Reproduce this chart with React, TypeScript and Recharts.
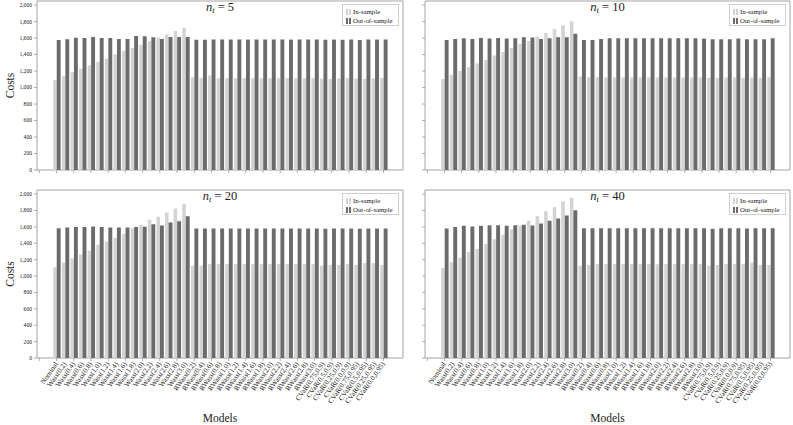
import React from 'react';
import { BarChart, Bar, XAxis, YAxis, ReferenceArea, Legend } from 'recharts';

const models = [
  'Nominal',
  'Wass(0.2)', 'Wass(0.4)', 'Wass(0.6)', 'Wass(0.8)', 'Wass(1.0)', 'Wass(1.2)', 'Wass(1.4)', 'Wass(1.6)',
  'Wass(1.8)', 'Wass(2.0)', 'Wass(2.2)', 'Wass(2.4)', 'Wass(2.6)', 'Wass(2.8)', 'Wass(3.0)',
  'RWass(0.2)', 'RWass(0.4)', 'RWass(0.6)', 'RWass(0.8)', 'RWass(1.0)', 'RWass(1.2)', 'RWass(1.4)', 'RWass(1.6)',
  'RWass(1.8)', 'RWass(2.0)', 'RWass(2.2)', 'RWass(2.4)', 'RWass(2.6)', 'RWass(2.8)', 'RWass(3.0)',
  'CVaR(0.75,0.9)', 'CVaR(0.5,0.9)', 'CVaR(0.25,0.9)', 'CVaR(0.0,0.9)',
  'CVaR(0.75,0.95)', 'CVaR(0.5,0.95)', 'CVaR(0.25,0.95)', 'CVaR(0.0,0.95)',
];

const yTicks = [0, 200, 400, 600, 800, 1000, 1200, 1400, 1600, 1800, 2000];

// n_t = 5
const inSample5 = [
  1090, 1138, 1187, 1228, 1268, 1313, 1350, 1402, 1447, 1480, 1520, 1561, 1606, 1646, 1687, 1724,
  1126, 1118, 1146, 1114, 1114, 1114, 1114, 1114, 1114, 1114, 1114, 1114, 1114, 1114, 1114,
  1108, 1106, 1110, 1118, 1110, 1106, 1110, 1118,
];
const outSample5 = [
  1577, 1585, 1605, 1602, 1614, 1602, 1602, 1590, 1590, 1626, 1622, 1610, 1590, 1614, 1614, 1614,
  1580, 1580, 1582, 1582, 1582, 1582, 1582, 1582, 1582, 1582, 1582, 1582, 1582, 1582, 1582,
  1580, 1582, 1580, 1582, 1578, 1582, 1582, 1582,
];

// n_t = 10
const inSample10 = [
  1102, 1155, 1203, 1248, 1293, 1333, 1390, 1431, 1480, 1528, 1565, 1618, 1663, 1711, 1756, 1805,
  1134, 1126, 1126, 1122, 1122, 1122, 1122, 1122, 1122, 1122, 1122, 1122, 1122, 1122, 1122,
  1118, 1118, 1122, 1122, 1118, 1122, 1118, 1126,
];
const outSample10 = [
  1577, 1590, 1598, 1590, 1602, 1594, 1602, 1594, 1598, 1610, 1606, 1590, 1598, 1610, 1610, 1654,
  1577, 1577, 1590, 1598, 1598, 1598, 1598, 1598, 1598, 1598, 1598, 1598, 1598, 1598, 1594,
  1585, 1585, 1585, 1594, 1585, 1585, 1585, 1598,
];

// n_t = 20
const inSample20 = [
  1108, 1165, 1214, 1263, 1311, 1381, 1421, 1466, 1515, 1584, 1625, 1686, 1723, 1776, 1825, 1882,
  1124, 1128, 1149, 1145, 1145, 1145, 1145, 1145, 1145, 1145, 1145, 1145, 1145, 1145, 1145,
  1128, 1136, 1136, 1145, 1136, 1157, 1157, 1136,
];
const outSample20 = [
  1584, 1592, 1597, 1597, 1605, 1597, 1592, 1592, 1592, 1597, 1601, 1633, 1617, 1654, 1670, 1731,
  1580, 1580, 1580, 1580, 1580, 1580, 1580, 1580, 1580, 1580, 1580, 1580, 1580, 1580, 1580,
  1576, 1580, 1580, 1580, 1576, 1580, 1580, 1580,
];

// n_t = 40
const inSample40 = [
  1096, 1169, 1222, 1291, 1332, 1393, 1450, 1503, 1572, 1617, 1674, 1731, 1792, 1841, 1910, 1955,
  1124, 1136, 1145, 1145, 1145, 1145, 1145, 1145, 1145, 1145, 1145, 1145, 1145, 1145, 1145,
  1124, 1136, 1149, 1149, 1149, 1165, 1136, 1136,
];
const outSample40 = [
  1580, 1597, 1613, 1605, 1613, 1621, 1621, 1613, 1621, 1625, 1617, 1641, 1674, 1703, 1739, 1804,
  1584, 1584, 1584, 1584, 1584, 1584, 1584, 1584, 1584, 1584, 1584, 1584, 1584, 1584, 1584,
  1576, 1584, 1584, 1584, 1580, 1584, 1584, 1584,
];

const LIGHT = '#d3d3d3';
const DARK = '#6b6b6b';
const AXIS = '#9a9a9a';
const TEXT = '#222';
const FONT = "'Liberation Serif', 'DejaVu Serif', serif";
const X_DOMAIN: [number, number] = [-2.27, 40.27];
const Y_MAX = 2050;
const xTicks = [-2, ...models.map((_, i) => i)];

const fmt = (v: number) => v.toLocaleString('en-US');

const makeXTick = (showLabels: boolean) => (props: any) => {
  const { x, y, payload } = props;
  const idx = Math.round(payload.value);
  const ax = x + 1.8;
  const ay = y + 6;
  return (
    <g>
      {idx % 2 === 0 && <line x1={x} x2={x} y1={y} y2={y + 3} stroke={AXIS} strokeWidth={0.8} />}
      {showLabels && idx >= 0 && (
        <text
          x={ax}
          y={ay}
          transform={`rotate(-55, ${ax}, ${ay})`}
          textAnchor="end"
          fontSize={7.2}
          fontFamily={FONT}
          fill={TEXT}
        >
          {models[idx]}
        </text>
      )}
    </g>
  );
};

const makeYTick = (showLabels: boolean) => (props: any) => {
  const { x, y, payload } = props;
  if (!showLabels) return <g />;
  return (
    <text x={x} y={y} dy={1.9} textAnchor="end" fontSize={5.6} fontFamily={FONT} fill={TEXT}>
      {fmt(payload.value)}
    </text>
  );
};

const makeTitle = (val: string) => (props: any) => {
  const vb = props.viewBox;
  const cx = vb.x + vb.width / 2;
  return (
    <text x={cx} y={vb.y + 10} textAnchor="middle" fontFamily={FONT} fontSize={12.5} fill={TEXT}>
      <tspan fontStyle="italic">n</tspan>
      <tspan fontStyle="italic" fontSize={8.5} dy={2}>t</tspan>
      <tspan dy={-2}>{` = ${val}`}</tspan>
    </text>
  );
};

const Swatch = ({ color }: { color: string }) => (
  <span style={{ display: 'inline-flex', gap: 1, marginRight: 2 }}>
    <span style={{ display: 'inline-block', width: 2, height: 6, background: color }} />
    <span style={{ display: 'inline-block', width: 2, height: 6, background: color }} />
  </span>
);

const LegendBox = () => (
  <div
    style={{
      border: '1px solid #cfcfcf',
      background: '#fff',
      padding: '2px 3px',
      fontFamily: FONT,
      fontSize: 6.8,
      lineHeight: '9px',
      color: TEXT,
      boxSizing: 'border-box',
      width: 57,
      height: 22,
    }}
  >
    <div style={{ display: 'flex', alignItems: 'center' }}>
      <Swatch color={LIGHT} />
      In-sample
    </div>
    <div style={{ display: 'flex', alignItems: 'center' }}>
      <Swatch color={DARK} />
      Out-of-sample
    </div>
  </div>
);

type PanelProps = {
  title: string;
  inS: number[];
  outS: number[];
  left: number;
  top: number;
  width: number;
  height: number;
  plotLeft: number;
  plotRight: number;
  plotTop: number;
  plotBottom: number;
  showYLabels: boolean;
  showXLabels: boolean;
};

const Panel = (p: PanelProps) => {
  const data = models.map((m, i) => ({ idx: i, model: m, inSample: p.inS[i], outSample: p.outS[i] }));
  return (
    <div style={{ position: 'absolute', left: p.left, top: p.top, width: p.width, height: p.height }}>
      <BarChart
        width={p.width}
        height={p.height}
        data={data}
        margin={{ top: p.plotTop, right: p.width - p.plotRight, left: 0, bottom: 0 }}
        barGap={0}
      >
        <XAxis
          dataKey="idx"
          type="number"
          domain={X_DOMAIN}
          ticks={xTicks}
          interval={0}
          allowDataOverflow
          tickSize={0}
          tickMargin={0}
          tickLine={false}
          axisLine={false}
          height={p.height - p.plotBottom}
          tick={makeXTick(p.showXLabels)}
          label={
            p.showXLabels
              ? {
                  content: (lp: any) => {
                    const vb = lp.viewBox;
                    return (
                      <text
                        x={vb.x + vb.width / 2}
                        y={p.height - 3}
                        textAnchor="middle"
                        fontFamily={FONT}
                        fontSize={11.5}
                        fill={TEXT}
                      >
                        Models
                      </text>
                    );
                  },
                }
              : undefined
          }
        />
        <YAxis
          type="number"
          domain={[0, Y_MAX]}
          ticks={yTicks}
          interval={0}
          allowDataOverflow
          width={p.plotLeft}
          tickSize={3}
          tickMargin={2}
          tickLine={{ stroke: AXIS, strokeWidth: 0.8 }}
          axisLine={false}
          tick={makeYTick(p.showYLabels)}
          label={
            p.showYLabels
              ? {
                  content: (lp: any) => {
                    const vb = lp.viewBox;
                    const cy = vb.y + vb.height / 2;
                    return (
                      <text
                        x={10}
                        y={cy}
                        transform={`rotate(-90, 10, ${cy})`}
                        dy={4}
                        textAnchor="middle"
                        fontFamily={FONT}
                        fontSize={11.5}
                        fill={TEXT}
                      >
                        Costs
                      </text>
                    );
                  },
                }
              : undefined
          }
        />
        <Bar dataKey="inSample" name="In-sample" fill={LIGHT} barSize={3.5} isAnimationActive={false} />
        <Bar dataKey="outSample" name="Out-of-sample" fill={DARK} barSize={3.9} isAnimationActive={false} />
        <ReferenceArea
          x1={X_DOMAIN[0]}
          x2={X_DOMAIN[1]}
          y1={0}
          y2={Y_MAX}
          fill="none"
          fillOpacity={0}
          stroke={AXIS}
          strokeWidth={0.9}
          ifOverflow="visible"
          label={{ content: makeTitle(p.title) }}
        />
        <Legend
          layout="vertical"
          align="center"
          verticalAlign="middle"
          content={() => <LegendBox />}
          wrapperStyle={{ left: p.plotRight - 61, top: p.plotTop + 3, width: 57, height: 22 }}
        />
      </BarChart>
    </div>
  );
};

export default function App() {
  return (
    <div
      style={{
        position: 'absolute',
        left: 0,
        top: 0,
        width: 793,
        height: 425,
        background: '#fff',
        overflow: 'hidden',
      }}
    >
      <Panel title="5" inS={inSample5} outS={outSample5} left={0} top={0} width={410} height={182}
        plotLeft={37} plotRight={403} plotTop={1} plotBottom={170} showYLabels showXLabels={false} />
      <Panel title="10" inS={inSample10} outS={outSample10} left={400} top={0} width={393} height={182}
        plotLeft={25} plotRight={390} plotTop={1} plotBottom={170} showYLabels={false} showXLabels={false} />
      <Panel title="20" inS={inSample20} outS={outSample20} left={0} top={185} width={410} height={240}
        plotLeft={37} plotRight={403} plotTop={5} plotBottom={173} showYLabels showXLabels />
      <Panel title="40" inS={inSample40} outS={outSample40} left={400} top={185} width={393} height={240}
        plotLeft={25} plotRight={390} plotTop={5} plotBottom={173} showYLabels={false} showXLabels />
    </div>
  );
}
